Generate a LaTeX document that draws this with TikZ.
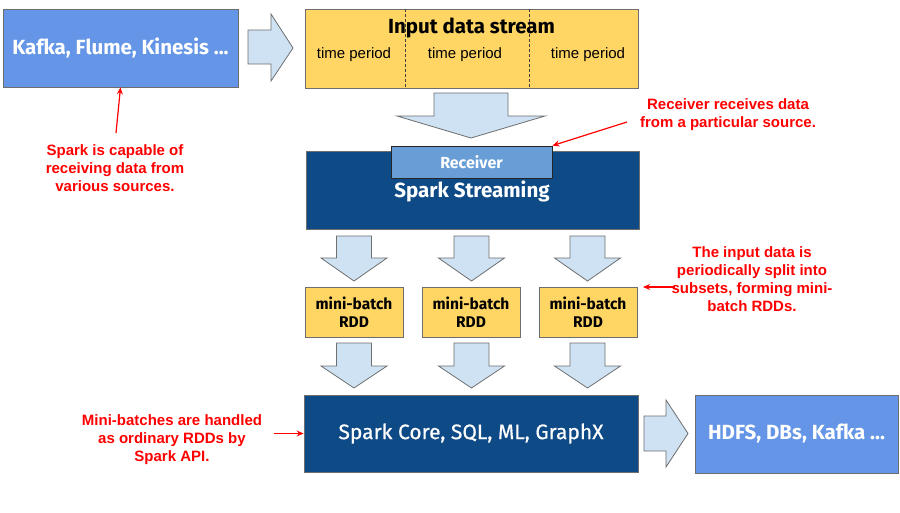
\documentclass[tikz,border=0pt]{standalone}
\usepackage{fontspec}
\setmainfont{Liberation Sans}
\newfontfamily\boxfont{Fira Sans}
\newfontfamily\boxmed[FakeBold=0.6]{Fira Sans}
\usetikzlibrary{arrows.meta,calc}
\definecolor{srcblue}{RGB}{100,149,230}
\definecolor{yel}{RGB}{255,213,100}
\definecolor{dkblue}{RGB}{14,74,134}
\definecolor{recblue}{RGB}{104,158,213}
\definecolor{arrfill}{RGB}{207,226,243}
\definecolor{edgegray}{RGB}{110,110,110}
\tikzset{
  box/.style={draw=edgegray,line width=0.8pt,minimum width=#1,inner sep=0pt,align=center},
  srcbox/.style={box=#1,fill=srcblue,text=white,font=\boxfont\bfseries\fontsize{20.5}{22}\selectfont},
  darkbox/.style={box=#1,fill=dkblue,text=white},
  yelbox/.style={box=#1,fill=yel,text=black},
  blockarrow/.style={draw=edgegray,fill=arrfill,line width=0.8pt,line join=miter},
  note/.style={text=red,font=\bfseries\fontsize{15}{18}\selectfont,align=center,inner sep=0pt},
  redarrow/.style={draw=red,line width=1.2pt,-{Stealth[length=7pt,width=6pt]}},
}
\begin{document}
\begin{tikzpicture}[x=1pt,y=-1pt]
\useasboundingbox (0,0) rectangle (900,512);
\fill[white] (0,0) rectangle (900,512);

% source box
\node[srcbox=235pt,minimum height=78pt] (kafka) at (120.5,48) {Kafka, Flume, Kinesis ...};

% right arrow 1
\draw[blockarrow] (248,30) -- (271,30) -- (271,14) -- (293,48) -- (271,81) -- (271,64) -- (248,64) -- cycle;

% input data stream
\node[yelbox=333pt,minimum height=79pt] (input) at (471.5,48.5) {};
\draw[densely dashed,line width=0.7pt,black!75] (405,9) -- (405,88);
\draw[densely dashed,line width=0.7pt,black!75] (529,9) -- (529,88);
\node[font=\boxfont\bfseries\fontsize{20.5}{22}\selectfont] (title) at (471.5,27.5) {Input data stream};
\node[font=\fontsize{15}{17}\selectfont] (tp1) at (354,55) {time period};
\node[font=\fontsize{15}{17}\selectfont] (tp2) at (465,55) {time period};
\node[font=\fontsize{15}{17}\selectfont] (tp3) at (588,55) {time period};

% big down arrow
\draw[blockarrow] (434,93) -- (508,93) -- (508,116) -- (545,116) -- (471,138) -- (397,116) -- (434,116) -- cycle;

% spark streaming
\node[darkbox=333pt,minimum height=78pt] (ss) at (472.5,190) {};
\node[text=white,font=\boxfont\bfseries\fontsize{20.5}{22}\selectfont] (sstext) at (472,191.5) {Spark Streaming};
\node[box=161pt,draw=black!85,fill=recblue,text=white,minimum height=32pt,font=\boxfont\bfseries\fontsize{16}{18}\selectfont] (rec) at (471.5,162) {Receiver};

% small down arrows
\foreach \c in {354,471.5,587.5}{
  \draw[blockarrow] (\c-17.5,236) -- (\c+17.5,236) -- (\c+17.5,258) -- (\c+33,258) -- (\c,281) -- (\c-33,258) -- (\c-17.5,258) -- cycle;
  \draw[blockarrow] (\c-17.5,343) -- (\c+17.5,343) -- (\c+17.5,366) -- (\c+33,366) -- (\c,388) -- (\c-33,366) -- (\c-17.5,366) -- cycle;
}

% mini-batches
\node[yelbox=98pt,minimum height=50pt,font=\boxfont\bfseries\fontsize{15.5}{17.5}\selectfont] (mb1) at (354,312) {mini-batch\\RDD};
\node[yelbox=98pt,minimum height=50pt,font=\boxfont\bfseries\fontsize{15.5}{17.5}\selectfont] (mb2) at (471,312) {mini-batch\\RDD};
\node[yelbox=98pt,minimum height=50pt,font=\boxfont\bfseries\fontsize{15.5}{17.5}\selectfont] (mb3) at (588,312) {mini-batch\\RDD};

% spark core
\node[darkbox=334pt,minimum height=77pt,font=\boxmed\fontsize{21}{23}\selectfont] (core) at (471,433.5) {Spark Core, SQL, ML, GraphX};

% right arrow 2
\draw[blockarrow] (644,416) -- (666,416) -- (666,400) -- (688,433.5) -- (666,467) -- (666,451) -- (644,451) -- cycle;

% sinks
\node[srcbox=203pt,minimum height=78pt] (hdfs) at (796.5,434) {HDFS, DBs, Kafka ...};

% annotations
\node[note] (n1) at (115,168) {Spark is capable of\\receiving data from\\various sources.};
\coordinate (n1s) at (116,133);
\draw[redarrow] (n1s) -- (kafka.south);

\node[note] (n2) at (728,114.5) {Receiver receives data\\from a particular source.};
\coordinate (n2s) at (627,122);
\draw[redarrow] (n2s) -- (rec.north east);

\node[note] (n4) at (752,279.5) {The input data is\\periodically split into\\subsets, forming mini-\\batch RDDs.};
\coordinate (n4s) at (675,287);
\coordinate (n4e) at (643,287);
\draw[redarrow] (n4s) -- (n4e);

\node[note] (n3) at (172,440) {Mini-batches are handled\\as ordinary RDDs by\\Spark API.};
\coordinate (n3s) at (274,433.5);
\draw[redarrow] (n3s) -- (core.west);
\end{tikzpicture}
\end{document}
